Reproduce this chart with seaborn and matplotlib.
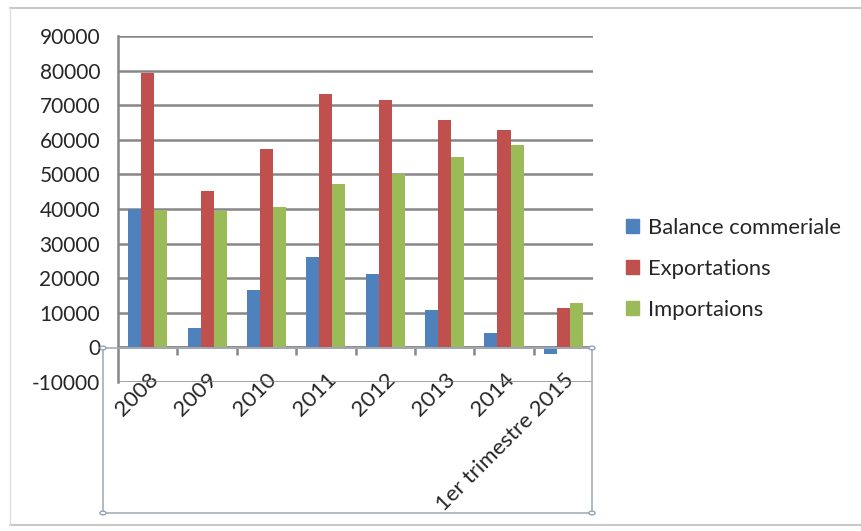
import matplotlib
matplotlib.use("Agg")
import matplotlib.pyplot as plt
import matplotlib.patches as mpatches
import seaborn as sns
import pandas as pd
import numpy as np

annees = ["2008", "2009", "2010", "2011", "2012", "2013", "2014", "1er trimestre 2015"]
balance = [40000, 5700, 16600, 26200, 21200, 10900, 4000, -1900]
exportations = [79300, 45200, 57200, 73300, 71600, 65600, 62900, 11300]
importations = [39800, 39300, 40600, 47200, 50200, 55000, 58500, 12900]
series = ["Balance commeriale", "Exportations", "Importaions"]
couleurs = ["#4F81BD", "#C0504D", "#9BBB59"]

df = pd.DataFrame({
    "annee": annees * 3,
    "valeur": balance + exportations + importations,
    "serie": [s for s in series for _ in annees],
})

sns.set_style("white")
plt.rcParams["font.family"] = ["Lato", "DejaVu Sans"]
plt.rcParams["axes.unicode_minus"] = False
grid_col = "#868686"

fig = plt.figure(figsize=(8.62, 5.31), dpi=100)
ax = fig.add_axes([0.137, 0.281, 0.551, 0.651])

sns.barplot(data=df, x="annee", y="valeur", hue="serie", palette=couleurs,
            width=0.66, ax=ax, saturation=1, legend=False, linewidth=0)

ax.set_ylim(-10000, 90000)
ax.set_xlim(-0.5, len(annees) - 0.5)
ax.set_yticks(np.arange(-10000, 90001, 10000))
ax.yaxis.grid(True, color=grid_col, linewidth=1.8)
ax.set_axisbelow(True)
ax.set_xlabel("")
ax.set_ylabel("")

for side in ["top", "right"]:
    ax.spines[side].set_visible(False)
ax.spines["bottom"].set_visible(False)
ax.spines["left"].set_color(grid_col)
ax.spines["left"].set_linewidth(1.8)
ax.tick_params(axis="y", length=6, width=1.8, color=grid_col, labelsize=15, pad=7)

ax.set_xticks(range(len(annees)))
ax.set_xticklabels(annees, rotation=45, ha="right", rotation_mode="anchor", fontsize=16)
ax.tick_params(axis="x", length=0, pad=-9)

# axe des categories a zero avec graduations entre les categories
sec = ax.secondary_xaxis(0.1)
sec.set_xticks(np.arange(0.5, len(annees) - 0.5, 1))
sec.tick_params(length=6, width=1.8, color=grid_col, labelbottom=False)
sec.spines["bottom"].set_color(grid_col)
sec.spines["bottom"].set_linewidth(1.8)

handles = [mpatches.Patch(color=c, label=s) for c, s in zip(couleurs, series)]
fig.legend(handles=handles, loc="center left", bbox_to_anchor=(0.703, 0.494),
           frameon=False, fontsize=15.8, handlelength=0.6, handleheight=0.6,
           handletextpad=0.4, labelspacing=0.95)

# cadre de selection et bordure du graphique
sel = mpatches.Rectangle((103 / 862, 1 - 513 / 531), (592 - 103) / 862, (513 - 348) / 531,
                         transform=fig.transFigure, fill=False, edgecolor="#A6AEB8", linewidth=1.2)
fig.patches.append(sel)
for (px, py) in [(103, 348), (592, 348), (103, 513), (592, 513)]:
    fig.patches.append(mpatches.Circle((px / 862, 1 - py / 531), 0.0035, transform=fig.transFigure,
                                       facecolor="white", edgecolor="#8FA3BA", linewidth=1))
fig.add_artist(plt.Line2D([10 / 862, 1], [1 - 8 / 531] * 2, transform=fig.transFigure, color="#C8C8C8", lw=1.5))
fig.add_artist(plt.Line2D([10 / 862, 1], [1 - 525 / 531] * 2, transform=fig.transFigure, color="#C8C8C8", lw=1.5))
fig.add_artist(plt.Line2D([10 / 862] * 2, [1 - 8 / 531, 1 - 525 / 531], transform=fig.transFigure, color="#DDDDDD", lw=1))

fig.savefig("out.png", dpi=100)
